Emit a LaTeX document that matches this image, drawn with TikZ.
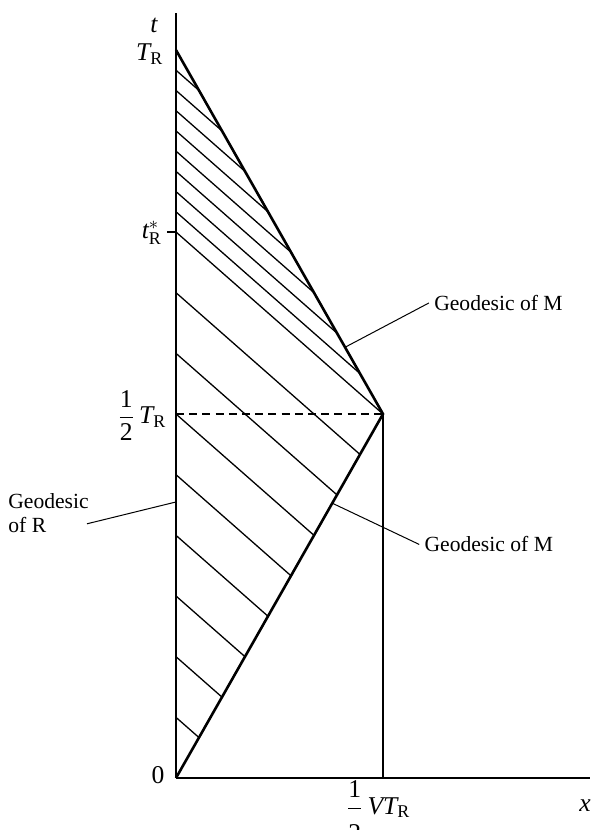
\documentclass[tikz,border=0pt]{standalone}
\usepackage{fontspec}
\setmainfont{Liberation Serif}
\begin{document}
\begin{tikzpicture}[x=17.25pt,y=30.333pt,
  every node/.style={font=\fontsize{10.8}{12}\selectfont},
  worldR/.style={line width=1pt},
  worldM/.style={line width=1.3pt},
  hatch/.style={line width=0.65pt},
  thinax/.style={line width=0.6pt},
  leader/.style={line width=0.5pt},
  lab/.style={inner sep=0pt, font=\fontsize{12.8}{14}\selectfont}]
\useasboundingbox (-5.101,-0.857) rectangle (12.087,12.824);
% key points
\coordinate (O) at (0,0);
\coordinate (V) at (6,6);
\coordinate (H) at (0,6);
\coordinate (Tt) at (0,12);
\coordinate (Top) at (0,12.61);
\coordinate (Xend) at (12.0,0);
\coordinate (Vfoot) at (6,0);
\coordinate (S) at (0,9);
\coordinate (Stick) at (-0.26,9);
% hatching (light signals)
\foreach \k in {1,...,9}
  \draw[hatch] (0,\k) -- ({2*\k/3},{2*\k/3});
\foreach \k in {1,...,8}
  \draw[hatch] (0,{9+\k/3}) -- ({6-2*\k/3},{6+2*\k/3});
% axes
\draw[thinax] (O) -- (Xend);
\draw[thinax] (V) -- (Vfoot);
\draw[worldR] (O) -- (Top);
\draw[thinax] (Stick) -- (S);
\draw[hatch, dash pattern=on 4pt off 2.6pt] (H) -- (V);
% geodesics of M
\draw[worldM, line join=miter] (O) -- (V) -- (Tt);
% labels
\node[lab] (tl) at (-0.638,12.41) {$\mathit{t}$};
\node[lab] (TRl) at (-0.76,11.93) {$\mathit{T}_{\mathrm{R}}$};
\node[lab] (tsl) at (-0.70,8.98) {$\mathit{t}^{*}_{\mathrm{R}}$};
\node[lab] (hTl) at (-0.99,5.98) {$\displaystyle\frac{\mathrm{1}}{\mathrm{2}}\,\mathit{T}_{\mathrm{R}}$};
\node[lab] (zl) at (-0.52,0.05) {$\mathrm{0}$};
\node[lab] (hVl) at (5.86,-0.544) {$\displaystyle\frac{\mathrm{1}\rule[-0.7ex]{0pt}{0pt}}{\rule{0pt}{2.6ex}\mathrm{2}}\,\mathit{VT}_{\mathrm{R}}$};
\node[lab] (xl) at (11.86,-0.46) {$\mathit{x}$};
% leaders
\coordinate (lm1) at (4.9,7.1);
\node[anchor=west, inner sep=2.5pt] (gm1) at (7.33,7.83) {Geodesic of M};
\draw[leader] (lm1) -- (gm1.west);
\coordinate (lm2) at (4.53,4.53);
\node[anchor=west, inner sep=2.5pt] (gm2) at (7.05,3.85) {Geodesic of M};
\draw[leader] (lm2) -- (gm2.west);
\coordinate (lr) at (0,4.55);
\coordinate (lrEnd) at (-2.58,4.19);
\node[anchor=west, align=left, inner sep=0pt] (gr) at (-4.87,4.37) {Geodesic\\of R};
\draw[leader] (lr) -- (lrEnd);
\end{tikzpicture}
\end{document}
